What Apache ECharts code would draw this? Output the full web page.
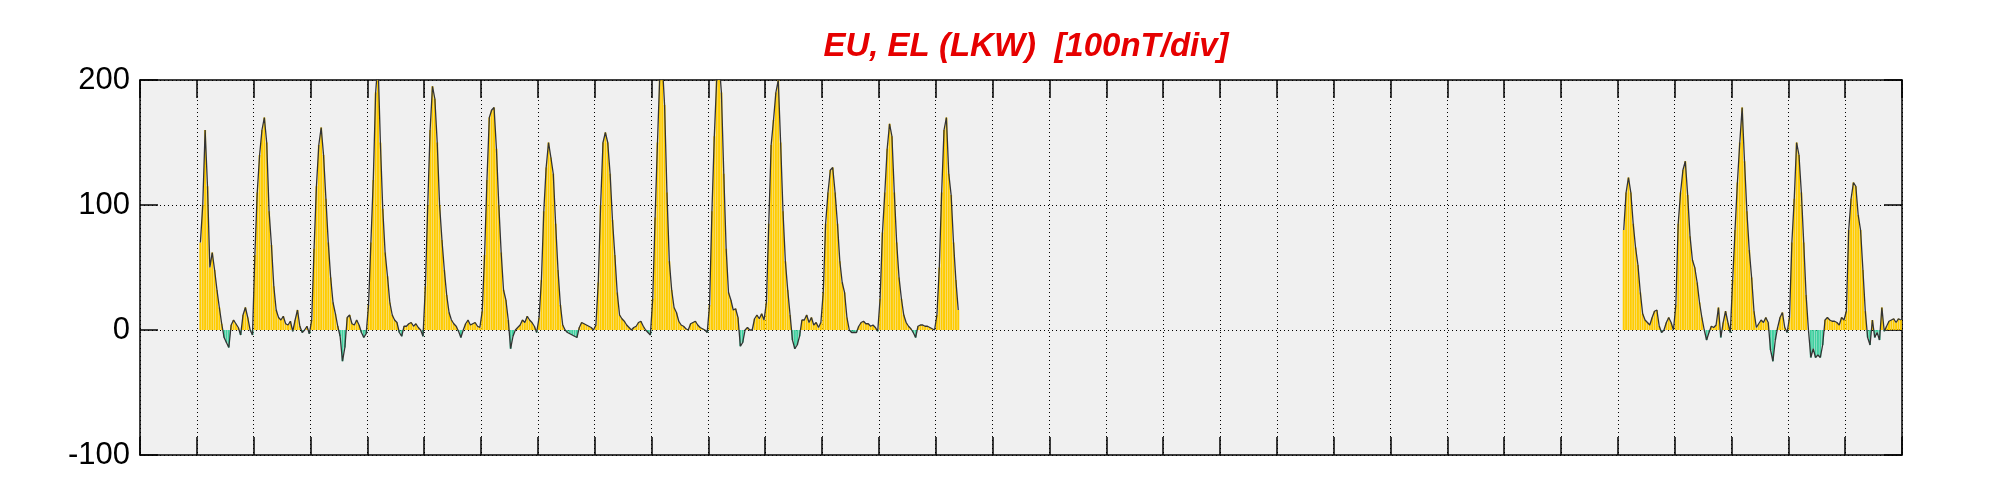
<!DOCTYPE html>
<html><head><meta charset="utf-8">
<script src="https://cdn.jsdelivr.net/npm/echarts@6/dist/echarts.min.js"></script>
<style>html,body{margin:0;padding:0;background:#fff}#c{width:2001px;height:500px}</style>
</head><body><div id="c"></div>
<script>
const chartTitle = 'EU, EL (LKW)  [100nT/div]';
const yTickValues = [-100, 0, 100, 200];
const totalHours = 744;      // 31 days, hourly
const hoursPerDay = 24;

// Segment A: starts at hour 25 (day 2, 01h), hourly values (nT)
const segAStartHour = 25;
const segAValues = [
  70,100,160,115,50,62,48,32,18,5,-6,-10,-14,4,8,5,2,-4,12,18,10,0,-4,
  60,110,140,160,170,150,95,68,35,16,10,8,11,5,4,7,-1,8,16,3,-2,0,3,-3,
  8,65,115,148,162,140,105,70,42,22,13,3,-5,-25,-14,10,12,5,4,8,4,-2,-6,-3,
  20,70,120,190,215,150,97,62,43,22,12,8,6,-2,-5,3,3,5,6,3,5,2,0,-5,
  35,100,160,195,185,150,100,72,48,28,14,8,5,3,-1,-6,0,5,8,4,5,6,3,2,
  15,60,120,170,176,178,145,100,62,32,24,8,-15,-5,0,2,4,8,6,11,8,6,3,-2,
  10,40,95,130,150,138,125,85,48,20,4,0,-2,-3,-4,-5,-6,2,6,5,4,3,2,0,
  4,38,100,150,158,150,125,88,60,30,12,9,7,4,2,0,2,3,6,7,3,0,-2,-4,
  25,90,150,205,215,180,110,55,32,18,14,7,4,3,1,0,5,6,7,4,2,1,0,-2,
  20,95,155,200,215,190,125,65,30,24,16,17,10,-13,-10,0,2,0,0,9,12,9,13,8,
  22,85,148,168,190,200,150,95,55,32,12,-8,-15,-12,-5,8,8,12,6,10,4,6,2,6,
  30,85,110,128,130,110,85,55,38,30,10,0,-2,-2,-2,3,6,7,5,5,3,4,2,-1,
  25,78,110,145,165,155,110,70,42,25,12,6,3,1,-2,-6,3,4,4,3,3,2,1,0,
  12,50,110,160,170,125,108,70,40,16
];

// Segment B: starts at hour 626 (day 27, 02h)
const segBStartHour = 626;
const segBValues = [
  80,110,122,110,85,66,52,30,13,8,6,4,10,15,16,3,-2,0,6,10,6,0,
  20,85,110,128,135,108,75,56,50,38,22,10,0,-8,-2,3,2,4,18,-6,6,15,6,-2,
  40,80,118,150,178,135,95,64,42,15,2,5,8,6,10,6,-16,-25,-8,2,10,14,2,-2,
  10,70,105,150,140,110,70,28,0,-22,-15,-22,-20,-22,-12,8,10,8,7,7,6,4,10,8,
  15,80,105,118,115,92,80,48,15,-6,-12,8,-6,-2,-8,18,-1,3,7,8,9,6,9,8
];

const YELLOW = '#ffcc00', TEAL = '#40d0a0', LINE = '#333333';

function toPoints(start, vals) { return vals.map((v, i) => [start + i + 0.5, v]); }
const ptsA = toPoints(segAStartHour, segAValues);
const ptsB = toPoints(segBStartHour, segBValues);

const dotted = { color: '#000', width: 1, type: [1, 3] };
const tick = { show: true, inside: true, length: 18, lineStyle: { color: '#000', width: 1.5 } };
const axLine = { show: true, onZero: false, lineStyle: { color: '#000', width: 1.5 } };

const chart = echarts.init(document.getElementById('c'), null, { renderer: 'canvas' });
chart.setOption({
  animation: false,
  backgroundColor: '#fff',
  title: {
    text: chartTitle, left: 1021, top: 25, textAlign: 'center',
    textStyle: { color: '#e60000', fontSize: 33, fontWeight: 'bold', fontStyle: 'italic', fontFamily: 'Liberation Sans' }
  },
  grid: { left: 140, right: 99, top: 80, bottom: 45, show: true, backgroundColor: '#f0f0f0', borderWidth: 0 },
  xAxis: [
    { type: 'value', position: 'bottom', min: 0, max: totalHours, interval: hoursPerDay,
      axisLine: axLine, axisTick: tick, axisLabel: { show: false }, splitLine: { show: true, lineStyle: dotted } },
    { type: 'value', position: 'top', min: 0, max: totalHours, interval: hoursPerDay,
      axisLine: axLine, axisTick: tick, axisLabel: { show: false }, splitLine: { show: false } }
  ],
  yAxis: [
    { type: 'value', position: 'left', min: yTickValues[0], max: yTickValues[yTickValues.length - 1], interval: 100,
      axisLine: axLine, axisTick: tick,
      axisLabel: { color: '#000', fontSize: 31, fontFamily: 'Liberation Sans', margin: 10 },
      splitLine: { show: true, lineStyle: dotted } },
    { type: 'value', position: 'right', min: yTickValues[0], max: yTickValues[yTickValues.length - 1], interval: 100,
      axisLine: axLine, axisTick: tick, axisLabel: { show: false }, splitLine: { show: false } }
  ],
  series: [
    { type: 'bar', xAxisIndex: 0, yAxisIndex: 0, data: ptsA.concat(ptsB), barWidth: 2, z: 2,
      itemStyle: { color: p => (p.value[1] < 0 ? TEAL : YELLOW) } },
    { type: 'line', xAxisIndex: 0, yAxisIndex: 0, data: ptsA, showSymbol: false, z: 3,
      lineStyle: { color: LINE, width: 1.3 } },
    { type: 'line', xAxisIndex: 0, yAxisIndex: 0, data: ptsB, showSymbol: false, z: 3,
      lineStyle: { color: LINE, width: 1.3 } }
  ]
});
</script>
</body></html>
